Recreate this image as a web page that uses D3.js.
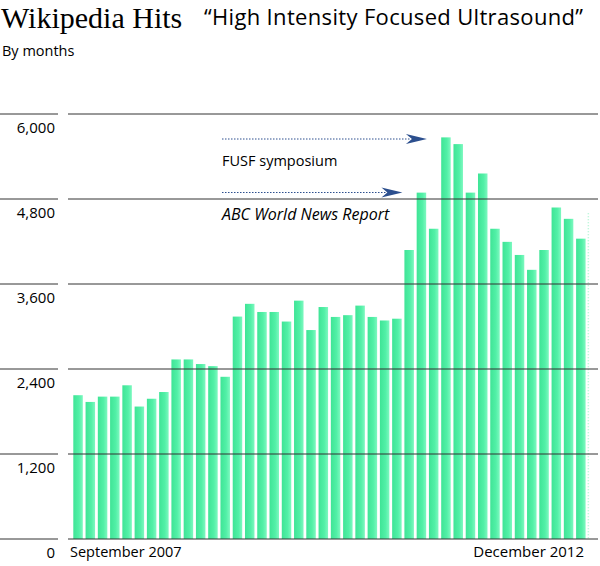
<!DOCTYPE html>
<html>
<head>
<meta charset="utf-8">
<script src="https://cdn.jsdelivr.net/npm/d3@7/dist/d3.min.js"></script>
<style>
  html, body { margin: 0; padding: 0; background: #fff; }
  svg { display: block; }
</style>
</head>
<body>
<script>
// ---- data ----
const months = d3.range(1, 43).map(i => "M" + i);
const hits = [2030, 1935, 2010, 2010, 2170, 1870, 1980, 2075, 2535, 2535,
              2470, 2440, 2290, 3140, 3320, 3205, 3205, 3070, 3365, 2950,
              3275, 3135, 3160, 3295, 3135, 3085, 3110, 4080, 4890, 4380,
              5670, 5575, 4890, 5160, 4380, 4195, 4010, 3800, 4080, 4680,
              4520, 4240];
const partialMonth = [4600];
const yTicks = [0, 1200, 2400, 3600, 4800, 6000];
const xLabels = ["September 2007", "December 2012"];
const annotations = [
  { label: "FUSF symposium", value: 5650, endIndex: 29, italic: false },
  { label: "ABC World News Report", value: 4900, endIndex: 27, italic: true }
];

// ---- layout ----
const W = 600, H = 566;
const svg = d3.select("body").append("svg").attr("width", W).attr("height", H);
const font = "'Open Sans', sans-serif";

const x = d3.scaleBand().domain(months).range([73.3, 585.6]).paddingInner(0.225).paddingOuter(0);
const y = d3.scaleLinear().domain([0, 6000]).range([539, 114]);

const defs = svg.append("defs");
const grad = defs.append("linearGradient").attr("id", "barGrad").attr("x1", "0").attr("x2", "1").attr("y1", "0").attr("y2", "0");
grad.append("stop").attr("offset", "0%").attr("stop-color", "#3fe496");
grad.append("stop").attr("offset", "60%").attr("stop-color", "#52f0a7");
grad.append("stop").attr("offset", "100%").attr("stop-color", "#7ef8c0");

// bars
svg.append("g").selectAll("rect").data(hits).join("rect")
  .attr("x", (d, i) => x(months[i]))
  .attr("width", x.bandwidth())
  .attr("y", d => y(d))
  .attr("height", d => y(0) - y(d))
  .attr("fill", "url(#barGrad)");

// faint partial month
const step = x.step();
svg.append("g").selectAll("line").data(partialMonth).join("line")
  .attr("x1", x(months[months.length - 1]) + step)
  .attr("x2", x(months[months.length - 1]) + step)
  .attr("y1", d => y(d)).attr("y2", y(0))
  .attr("stroke", "#aef5d2").attr("stroke-width", 1.5).attr("stroke-dasharray", "1,2");

// gridlines
const grid = svg.append("g");
grid.selectAll("line.l").data(yTicks).join("line").attr("class", "l")
  .attr("x1", 0).attr("x2", 58).attr("y1", d => y(d)).attr("y2", d => y(d))
  .attr("stroke", "#333").attr("stroke-width", 1);
grid.selectAll("line.r").data(yTicks).join("line").attr("class", "r")
  .attr("x1", 68).attr("x2", 598).attr("y1", d => y(d)).attr("y2", d => y(d))
  .attr("stroke", "#333").attr("stroke-width", 1);
grid.selectAll("text").data(yTicks).join("text")
  .attr("x", 55).attr("y", d => y(d) + 18.5)
  .attr("text-anchor", "end").attr("font-family", font).attr("font-size", 15)
  .attr("fill", "#000").text(d => d3.format(",")(d));

// x labels
svg.append("text").attr("x", 70).attr("y", 557).attr("font-family", font).attr("font-size", 14.5)
  .attr("fill", "#000").text(xLabels[0]);
svg.append("text").attr("x", 584).attr("y", 557).attr("text-anchor", "end").attr("font-family", font).attr("font-size", 15)
  .attr("fill", "#000").text(xLabels[1]);

// annotations
const blue = "#2c4f8e";
annotations.forEach((a, k) => {
  const yy = k === 0 ? 139 : 192.5;
  const tip = x(months[a.endIndex]) - 2;
  svg.append("line").attr("x1", 222).attr("x2", tip - 16).attr("y1", yy).attr("y2", yy)
    .attr("stroke", blue).attr("stroke-width", 1).attr("stroke-dasharray", "1.5,1.5");
  svg.append("path")
    .attr("d", `M${tip},${yy} L${tip - 21},${yy - 5} L${tip - 15},${yy} L${tip - 21},${yy + 5} Z`)
    .attr("fill", blue);
  svg.append("text").attr("x", 222).attr("y", yy + 27)
    .attr("font-family", font).attr("font-size", a.italic ? 16 : 14.5)
    .attr("font-style", a.italic ? "italic" : "normal")
    .attr("fill", "#000").text(a.label);
});

// titles
svg.append("text").attr("x", 1).attr("y", 28).attr("font-family", "'Liberation Serif', serif")
  .attr("font-size", 30).attr("fill", "#000").text("Wikipedia Hits");
svg.append("text").attr("x", 204).attr("y", 25).attr("font-family", font)
  .attr("font-size", 22).attr("textLength", 379).attr("fill", "#000")
  .text("\u201CHigh Intensity Focused Ultrasound\u201D");
svg.append("text").attr("x", 2).attr("y", 56).attr("font-family", font)
  .attr("font-size", 14.5).attr("fill", "#000").text("By months");
</script>
</body>
</html>
